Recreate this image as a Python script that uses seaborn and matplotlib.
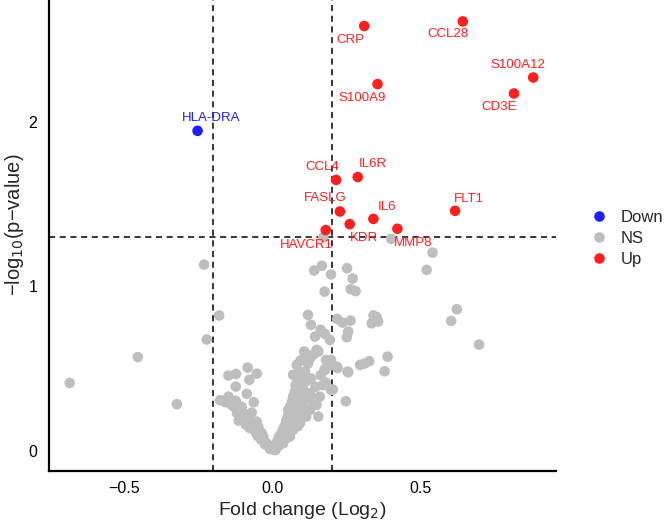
import pandas as pd
import seaborn as sns
import matplotlib.pyplot as plt

# significant genes
genes = ['HLA-DRA', 'CCL28', 'CRP', 'S100A12', 'CD3E', 'S100A9', 'CCL4', 'IL6R',
         'FASLG', 'KDR', 'IL6', 'MMP8', 'FLT1', 'HAVCR1']
gene_fc = [-0.253, 0.643, 0.310, 0.881, 0.816, 0.355, 0.215, 0.288,
           0.228, 0.261, 0.341, 0.422, 0.617, 0.180]
gene_p = [1.945, 2.610, 2.582, 2.269, 2.172, 2.229, 1.647, 1.664,
          1.455, 1.378, 1.410, 1.350, 1.459, 1.342]
gene_group = ['Down'] + ['Up'] * 13

# non significant proteins
ns_fc = [
    -0.177, -0.159, -0.149, -0.138, -0.124, -0.121, -0.114, -0.104, -0.099, -0.089,
    -0.087, -0.076, -0.070, -0.063, -0.053, -0.048, -0.042, -0.031, -0.020, -0.003,
    -0.110, -0.095, -0.082, -0.068, -0.060, -0.055, -0.045, -0.038, -0.028, -0.015,
    -0.010, -0.130, -0.140, -0.120, -0.105, -0.090, -0.075, -0.065, -0.050, -0.035,
    -0.025, -0.008, -0.149, -0.123, -0.084, -0.053, -0.078, -0.124,
    0.003, 0.008, 0.014, 0.018, 0.022, 0.025, 0.028, 0.031, 0.034, 0.036,
    0.038, 0.040, 0.042, 0.045, 0.048, 0.050, 0.052, 0.053, 0.055, 0.058,
    0.059, 0.060, 0.062, 0.065, 0.066, 0.068, 0.070, 0.070, 0.072, 0.075,
    0.076, 0.078, 0.080, 0.082, 0.082, 0.082, 0.084, 0.086, 0.088, 0.090,
    0.092, 0.093, 0.093, 0.095, 0.096, 0.098, 0.100, 0.102, 0.104, 0.104,
    0.107, 0.110, 0.110, 0.112, 0.114, 0.114, 0.118, 0.120, 0.124, 0.127,
    0.127, 0.127, 0.130, 0.138, 0.140, 0.145, 0.149, 0.149, 0.155, 0.155,
    0.160, 0.163, 0.170, 0.177, 0.177, 0.180, 0.181, 0.198, 0.198, 0.217,
    0.070, 0.093, 0.065, 0.045, 0.020, 0.010, 0.085,
    0.120, 0.130, 0.163, 0.177, 0.144, 0.194, 0.219, 0.237, 0.264, 0.256,
    0.251, 0.341, 0.352, 0.335, 0.357, 0.141, 0.167, 0.198, 0.176, 0.252,
    0.271, 0.264, 0.281, 0.296, 0.311, 0.327, 0.389, 0.379, 0.256, 0.220,
    0.201, 0.248, 0.204, 0.541, 0.521, 0.623, 0.604, 0.698, 0.401, 0.172,
    0.254,
    -0.231, -0.180, -0.222, -0.455, -0.685, -0.323,
]
ns_p = [
    0.308, 0.296, 0.330, 0.280, 0.304, 0.260, 0.184, 0.269, 0.229, 0.205,
    0.347, 0.138, 0.233, 0.296, 0.178, 0.148, 0.117, 0.087, 0.047, 0.026,
    0.240, 0.200, 0.175, 0.160, 0.130, 0.110, 0.095, 0.070, 0.060, 0.035,
    0.020, 0.270, 0.300, 0.230, 0.210, 0.160, 0.190, 0.140, 0.090, 0.105,
    0.040, 0.012, 0.458, 0.468, 0.506, 0.470, 0.432, 0.391,
    0.010, 0.030, 0.047, 0.065, 0.085, 0.060, 0.100, 0.087, 0.120, 0.047,
    0.140, 0.110, 0.148, 0.170, 0.188, 0.130, 0.210, 0.249, 0.160, 0.230,
    0.087, 0.270, 0.190, 0.269, 0.300, 0.220, 0.128, 0.330, 0.250, 0.360,
    0.290, 0.400, 0.170, 0.188, 0.330, 0.523, 0.440, 0.260, 0.370, 0.480,
    0.300, 0.249, 0.432, 0.550, 0.400, 0.210, 0.340, 0.470, 0.290, 0.371,
    0.604, 0.482, 0.598, 0.420, 0.209, 0.452, 0.320, 0.530, 0.553, 0.249,
    0.330, 0.351, 0.440, 0.584, 0.280, 0.390, 0.280, 0.614, 0.209, 0.604,
    0.330, 0.460, 0.400, 0.492, 0.498, 0.415, 0.553, 0.553, 0.371, 0.512,
    0.462, 0.168, 0.230, 0.075, 0.030, 0.005, 0.150,
    0.827, 0.766, 0.736, 0.711, 0.695, 0.675, 0.802, 0.780, 0.792, 0.725,
    0.691, 0.823, 0.813, 0.776, 0.786, 1.096, 1.125, 1.072, 0.968, 1.110,
    1.048, 0.983, 0.971, 0.523, 0.531, 0.545, 0.573, 0.484, 0.478, 0.504,
    0.521, 0.302, 0.373, 1.205, 1.100, 0.861, 0.790, 0.646, 1.289, 1.299,
    0.482,
    1.132, 0.823, 0.677, 0.570, 0.413, 0.284,
]

# label offsets in pixels (dx, dy up)
label_offsets = {
    'HLA-DRA': (14, 13), 'CCL28': (-15, -13), 'CRP': (-14, -14),
    'S100A12': (-15, 13), 'CD3E': (-15, -14), 'S100A9': (-15, -14),
    'CCL4': (-14, 13), 'IL6R': (15, 13), 'FASLG': (-15, 13),
    'KDR': (14, -14), 'IL6': (14, 12), 'MMP8': (16, -14),
    'FLT1': (14, 12), 'HAVCR1': (-19, -15),
}

ns = pd.DataFrame({'fc': ns_fc, 'p': ns_p, 'group': 'NS', 'label': ''})
sig = pd.DataFrame({'fc': gene_fc, 'p': gene_p, 'group': gene_group, 'label': genes})
df = pd.concat([ns, sig], ignore_index=True)

colors = {'Down': '#1f1fff', 'NS': '#bebebe', 'Up': '#ff1f1f'}

sns.set_style('white')
plt.rcParams['font.family'] = ['Liberation Sans', 'DejaVu Sans']

fig = plt.figure(figsize=(6.64, 5.25), dpi=100)
ax = fig.add_axes([49 / 664, 54 / 525, (556 - 49) / 664, 471 / 525])

sns.scatterplot(data=df, x='fc', y='p', hue='group', hue_order=['Down', 'NS', 'Up'],
                palette=colors, s=58, linewidth=0, alpha=1, ax=ax, legend=True)

for _, r in sig.iterrows():
    dx, dy = label_offsets[r['label']]
    ax.annotate(r['label'], (r['fc'], r['p']), xytext=(dx * 0.72, dy * 0.72),
                textcoords='offset points', ha='center', va='center',
                fontsize=9.5, color=colors[r['group']])

ax.axvline(-0.2, color='black', ls=(0, (4, 3)), lw=1.1, zorder=0)
ax.axvline(0.2, color='black', ls=(0, (4, 3)), lw=1.1, zorder=0)
ax.axhline(1.301, color='black', ls=(0, (4, 3)), lw=1.1, zorder=0)

ax.set_xlim(-0.755, 0.958)
ax.set_ylim(-0.122, 2.74)
ax.set_xticks([-0.5, 0.0, 0.5])
ax.set_xticklabels(['\u22120.5', '0.0', '0.5'])
ax.set_yticks([0, 1, 2])
ax.tick_params(axis='x', labelsize=11.5, length=0, pad=7, colors='black')
ax.tick_params(axis='y', labelsize=11.5, length=0, pad=8.5, colors='black')
ax.set_xlabel('Fold change (Log$_2$)', fontsize=14)
ax.set_ylabel('\u2212log$_{10}$(p\u2212value)', fontsize=14.5)
ax.yaxis.set_label_coords(-0.046, 0.522)
ax.xaxis.set_label_coords(0.5, -0.062)
sns.despine(ax=ax)
for sp in ['left', 'bottom']:
    ax.spines[sp].set_color('black')
    ax.spines[sp].set_linewidth(1.6)

handles, labels = ax.get_legend_handles_labels()
ax.legend(handles, labels, loc='upper left', bbox_to_anchor=(567 / 664, 1 - 195 / 525),
          bbox_transform=fig.transFigure, frameon=False, fontsize=12,
          handletextpad=0.3, labelspacing=0.35, title=None)

fig.savefig('out.png', dpi=100)
